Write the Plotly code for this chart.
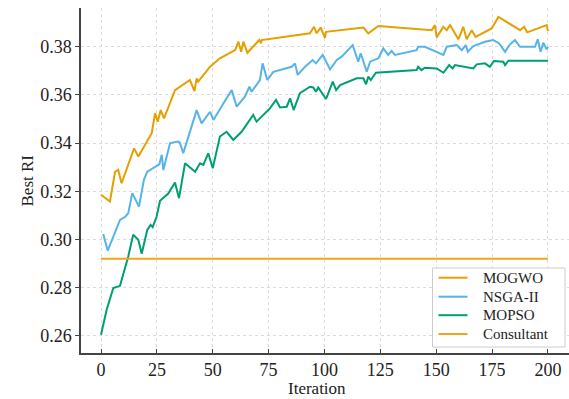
import plotly.graph_objects as go

# MOGWO (orange)
mogwo_x = [0, 4, 6.3, 7.7, 9.2, 14.8, 16.7, 22.7, 24.2, 25.4, 26.7, 28.2, 33.1, 39.8, 41.8, 42.8, 43.5,
           48.8, 53.2, 60, 61.5, 62.7, 63.7, 65.5, 70.8, 71.6, 71.9, 93.5, 95.3, 96.5, 98.3, 100.2, 100.7,
           117.4, 119.6, 124.1, 148, 149.4, 150.2, 153.2, 154.7, 156.2, 159.9, 162.1, 163.6, 165.9, 167.6,
           174.8, 177.8, 187.5, 189.3, 190.7, 199.4, 200]
mogwo_y = [0.3185, 0.3157, 0.3280, 0.3289, 0.3233, 0.3378, 0.3344, 0.3441, 0.3524, 0.3489, 0.3537, 0.3503,
           0.3620, 0.3662, 0.3616, 0.3669, 0.3655, 0.3717, 0.3752, 0.3786, 0.3821, 0.3779, 0.3821, 0.3775,
           0.3828, 0.3814, 0.3828, 0.3856, 0.3883, 0.3856, 0.3880, 0.3837, 0.3862, 0.3880, 0.3856, 0.3886,
           0.3869, 0.3890, 0.3839, 0.3883, 0.3869, 0.3890, 0.3831, 0.3883, 0.3831, 0.3869, 0.3841, 0.3876,
           0.3924, 0.3869, 0.3883, 0.3860, 0.3890, 0.3865]

# NSGA-II (blue)
nsga_x = [1, 3, 8.5, 11, 12.2, 14, 17, 19.2, 20.7, 24.2, 26.1, 27.2, 27.9, 30.9, 34.6, 35.3, 36.8, 42.8,
          45, 48.8, 50.3, 54.8, 58.5, 60.7, 64.4, 66.4, 67.4, 71.1, 72.3, 74.4, 77.1, 85.3, 86.8, 88, 91.3,
          94.7, 96.2, 99.2, 102.5, 105.5, 107.7, 112.6, 115.1, 116.2, 117.4, 118.9, 120.4, 124.1, 126.3,
          128.5, 130, 131.5, 141.2, 141.9, 144.9, 153.2, 154.7, 159.2, 161.4, 163.2, 164.1, 166.6, 171.8,
          175.5, 178.2, 180.8, 182.7, 185.2, 187.5, 194.2, 195.4, 196.7, 197.9, 199.4, 200]
nsga_y = [0.3022, 0.2953, 0.3081, 0.3095, 0.3109, 0.3192, 0.3136, 0.3247, 0.3281, 0.3302, 0.3312, 0.3351,
          0.3288, 0.3400, 0.3406, 0.3402, 0.3358, 0.3537, 0.3482, 0.3530, 0.3496, 0.3565, 0.3620, 0.3551,
          0.3593, 0.3634, 0.3613, 0.3662, 0.3731, 0.3662, 0.3696, 0.3717, 0.3731, 0.3683, 0.3717, 0.3745,
          0.3731, 0.3766, 0.3706, 0.3745, 0.3759, 0.3807, 0.3738, 0.3773, 0.3738, 0.3696, 0.3738, 0.3752,
          0.3793, 0.3766, 0.3783, 0.3766, 0.3786, 0.3800, 0.3800, 0.3766, 0.3800, 0.3807, 0.3786, 0.3807,
          0.3779, 0.3803, 0.3821, 0.3828, 0.3814, 0.3779, 0.3807, 0.3828, 0.3800, 0.3800, 0.3831, 0.3779,
          0.3817, 0.3789, 0.3800]

# MOPSO (green)
mopso_x = [0, 2.5, 5.5, 7, 8.5, 12.2, 14.4, 16.7, 18.2, 20.7, 22.2, 23.1, 24.9, 26.4, 30.1, 33.1, 34.9,
           37.6, 42.1, 44.3, 45.8, 48, 50, 53.2, 56.2, 59.2, 62.9, 68.1, 69.6, 75.6, 78.3, 80.1, 83.1, 84.6,
           86.2, 89, 93.5, 95, 96.2, 97.2, 100.7, 103.7, 105.2, 107, 114.4, 117.4, 118.6, 119.6, 120.7, 123,
           141.2, 141.9, 143.4, 144.9, 150.2, 153.2, 155.8, 157.3, 158.4, 166.6, 168.1, 171.8, 174, 175.8,
           180, 180.8, 182.3, 200]
mopso_y = [0.2604, 0.2707, 0.2798, 0.2802, 0.2807, 0.2929, 0.3019, 0.2998, 0.2940, 0.3039, 0.3060, 0.3051,
           0.3095, 0.3160, 0.3190, 0.3236, 0.3171, 0.3316, 0.3281, 0.3316, 0.3309, 0.3358, 0.3295, 0.3427,
           0.3447, 0.3413, 0.3447, 0.3517, 0.3489, 0.3544, 0.3579, 0.3548, 0.3551, 0.3586, 0.3537, 0.3607,
           0.3634, 0.3631, 0.3613, 0.3631, 0.3583, 0.3655, 0.3620, 0.3641, 0.3669, 0.3669, 0.3644, 0.3676,
           0.3662, 0.3692, 0.3703, 0.3717, 0.3703, 0.3713, 0.3710, 0.3692, 0.3724, 0.3710, 0.3724, 0.3710,
           0.3727, 0.3731, 0.3717, 0.3741, 0.3738, 0.3724, 0.3742, 0.3742]

# Consultant (flat)
consult_x = [0, 200]
consult_y = [0.2919, 0.2919]

x_ticks = [0, 25, 50, 75, 100, 125, 150, 175, 200]
y_ticks = [0.26, 0.28, 0.30, 0.32, 0.34, 0.36, 0.38]

FONT = "Liberation Serif, Times New Roman, Times, serif"

W, H = 569, 399
ML, MR, MT, MB = 81, 0, 8, 46
PW, PH = W - ML - MR, H - MT - MB


def px2paper_x(px):
    return (px - ML) / PW


def px2paper_y(py):
    return (H - MB - py) / PH


fig = go.Figure()
series = [
    ("MOGWO", mogwo_x, mogwo_y, "#E69F00"),
    ("NSGA-II", nsga_x, nsga_y, "#56B4E9"),
    ("MOPSO", mopso_x, mopso_y, "#009E73"),
    ("Consultant", consult_x, consult_y, "#F2A51C"),
]
for name, xs, ys, c in series:
    fig.add_trace(go.Scatter(x=xs, y=ys, mode="lines", name=name, showlegend=False,
                             line=dict(color=c, width=2)))

# hand-built legend box (matches the compact matplotlib legend spacing)
shapes = [dict(type="rect", xref="paper", yref="paper", layer="above",
               x0=px2paper_x(432.5), x1=px2paper_x(565), y0=px2paper_y(347), y1=px2paper_y(268),
               line=dict(color="#cccccc", width=1), fillcolor="rgba(255,255,255,0.92)")]
annotations = []
row_y = [277.7, 296.7, 315.2, 334.0]
for (name, _, _, c), ry in zip(series, row_y):
    shapes.append(dict(type="line", xref="paper", yref="paper", layer="above",
                       x0=px2paper_x(438.5), x1=px2paper_x(467.5),
                       y0=px2paper_y(ry), y1=px2paper_y(ry), line=dict(color=c, width=2)))
    annotations.append(dict(text=name, xref="paper", yref="paper", showarrow=False,
                            x=px2paper_x(481), y=px2paper_y(ry), xanchor="left", yanchor="middle",
                            font=dict(family=FONT, size=15, color="#222222")))

annotations.append(dict(text="Iteration", xref="paper", yref="paper", showarrow=False,
                        x=px2paper_x(317), y=px2paper_y(388.5), xanchor="center", yanchor="middle",
                        font=dict(family=FONT, size=17, color="#222222")))
annotations.append(dict(text="Best RI", xref="paper", yref="paper", showarrow=False, textangle=-90,
                        x=px2paper_x(27), y=px2paper_y(180.5), xanchor="center", yanchor="middle",
                        font=dict(family=FONT, size=17, color="#222222")))

axis_common = dict(
    showline=True, linecolor="#444444", linewidth=1.5,
    ticklen=4, tickwidth=1, tickcolor="#444444",
    showgrid=True, gridcolor="#dcdcdc", griddash="dot", gridwidth=1,
    zeroline=False, mirror=False, automargin=False,
    tickfont=dict(family=FONT, size=18, color="#222222"),
)

fig.update_layout(
    width=W, height=H,
    margin=dict(l=ML, r=MR, t=MT, b=MB),
    paper_bgcolor="white", plot_bgcolor="white",
    font=dict(family=FONT, color="#222222"),
    showlegend=False,
    shapes=shapes,
    annotations=annotations,
    xaxis=dict(range=[-8.95, 209.4], tickvals=x_ticks, ticks="inside", **axis_common),
    yaxis=dict(range=[0.2528, 0.3961], tickvals=y_ticks, tickformat=".2f", ticks="outside",
               **axis_common),
)

fig.write_html("out.html", config={"displayModeBar": False},
               post_script="document.body.style.margin='0';document.body.style.padding='0';")
